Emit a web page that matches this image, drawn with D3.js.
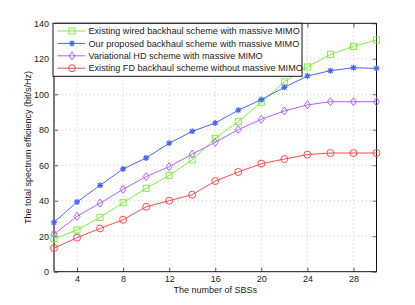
<!DOCTYPE html>
<html><head><meta charset="utf-8">
<script src="https://cdn.jsdelivr.net/npm/d3@7"></script>
<style>body{margin:0;background:#fff}svg{display:block}text{font-family:"Liberation Sans",Arial,sans-serif;fill:#222}</style>
</head><body><svg id="c" width="415" height="305"></svg>
<script>
const xValues = [2,4,6,8,10,12,14,16,18,20,22,24,26,28,30];
const wired = [18.6,23.5,30.6,38.9,47,54.3,63,75.2,84.6,95.5,107,115.4,122.5,127,130.6];
const proposed = [27.8,39.3,48.7,57.9,64.1,72.4,79.1,83.8,91,97,103.9,110.3,113.3,115,114.6];
const hd = [21.2,31.2,38.7,46.4,53.6,59.2,66.3,72.9,80.1,85.9,90.6,94,95.8,95.8,95.8];
const fd = [13.3,19.2,24.4,29.3,36.6,40,43.4,51.1,56.2,60.9,63.5,66,66.9,66.9,66.9];
const seriesNames = ["Existing wired backhaul scheme with massive MIMO","Our proposed backhaul scheme with massive MIMO","Variational HD scheme with massive MIMO","Existing FD backhaul scheme without massive MIMO"];
const xTicks = [4,8,12,16,20,24,28];
const yTicks = [0,20,40,60,80,100,120,140];
const xTitle = "The number of SBSs";
const yTitle = "The total spectrum efficiency (bit/s/Hz)";

const series = [
  {name:seriesNames[0], values:wired, color:"#7fef3f", marker:"square"},
  {name:seriesNames[1], values:proposed, color:"#4466ff", marker:"star"},
  {name:seriesNames[2], values:hd, color:"#b060ff", marker:"diamond"},
  {name:seriesNames[3], values:fd, color:"#ff4a4a", marker:"circle"}
];

const L=54, R=376.5, T=23.3, B=271.7;
const svg=d3.select("#c");
const x=d3.scaleLinear().domain([2,30]).range([L,R]);
const y=d3.scaleLinear().domain([0,140]).range([B,T]);

// grid
const g=svg.append("g");
g.selectAll(".gx").data(xTicks).enter().append("line")
 .attr("x1",d=>x(d)).attr("x2",d=>x(d)).attr("y1",T).attr("y2",B)
 .attr("stroke","#bbb").attr("stroke-width",0.8).attr("stroke-dasharray","1,3");
g.selectAll(".gy").data(yTicks.filter(d=>d>0&&d<140)).enter().append("line")
 .attr("x1",L).attr("x2",R).attr("y1",d=>y(d)).attr("y2",d=>y(d))
 .attr("stroke","#bbb").attr("stroke-width",0.8).attr("stroke-dasharray","1,3");

// axes
const xa=svg.append("g").attr("transform",`translate(0,${B})`)
 .call(d3.axisBottom(x).tickValues(xTicks).tickSize(-4).tickPadding(4));
const ya=svg.append("g").attr("transform",`translate(${L},0)`)
 .call(d3.axisLeft(y).tickValues(yTicks).tickSize(-4).tickPadding(5));
[xa,ya].forEach(a=>{a.select(".domain").remove();a.selectAll("line").attr("stroke","#555");a.selectAll("text").style("font-size","9px").attr("fill","#222");});
// top/right ticks
svg.append("g").attr("transform",`translate(0,${T})`).call(d3.axisTop(x).tickValues(xTicks).tickSize(-4).tickFormat(""))
 .call(a=>{a.select(".domain").remove();a.selectAll("line").attr("stroke","#555");});
svg.append("g").attr("transform",`translate(${R},0)`).call(d3.axisRight(y).tickValues(yTicks).tickSize(-4).tickFormat(""))
 .call(a=>{a.select(".domain").remove();a.selectAll("line").attr("stroke","#777");});
// box
svg.append("line").attr("x1",L).attr("x2",R).attr("y1",B).attr("y2",B).attr("stroke","#111");
svg.append("line").attr("x1",L).attr("x2",R).attr("y1",T).attr("y2",T).attr("stroke","#111");
svg.append("line").attr("x1",R).attr("x2",R).attr("y1",T).attr("y2",B).attr("stroke","#111");
svg.append("line").attr("x1",L).attr("x2",L).attr("y1",T).attr("y2",B).attr("stroke","#7a7a7a").attr("stroke-width",2);

function marker(sel,type,color){
  if(type==="square") sel.append("rect").attr("x",-3).attr("y",-3).attr("width",6).attr("height",6).attr("fill","none").attr("stroke",color);
  else if(type==="circle") sel.append("circle").attr("r",3.5).attr("fill","none").attr("stroke",color);
  else if(type==="diamond") sel.append("path").attr("d","M0,-4L3,0L0,4L-3,0Z").attr("fill","none").attr("stroke",color);
  else if(type==="star") sel.append("path").attr("d","M-3,0H3M0,-3V3M-2.2,-2.2L2.2,2.2M-2.2,2.2L2.2,-2.2").attr("stroke",color).attr("stroke-width",1.2);
}

const line=d3.line().x((d,i)=>x(xValues[i])).y(d=>y(d));
series.forEach(s=>{
  svg.append("path").datum(s.values).attr("d",line).attr("fill","none").attr("stroke",s.color).attr("stroke-width",1);
  s.values.forEach((v,i)=>{
    const m=svg.append("g").attr("transform",`translate(${x(xValues[i])},${y(v)})`);
    marker(m,s.marker,s.color);
  });
});

// legend
const lg=svg.append("g");
lg.append("rect").attr("x",53).attr("y",T).attr("width",249).attr("height",53).attr("fill","#fff").attr("stroke","#111").attr("stroke-width",1);
series.forEach((s,i)=>{
  const yy=31+i*12.4;
  lg.append("line").attr("x1",57.5).attr("x2",85).attr("y1",yy).attr("y2",yy).attr("stroke",s.color);
  marker(lg.append("g").attr("transform",`translate(72,${yy})`),s.marker,s.color);
  lg.append("text").attr("x",88.5).attr("y",yy).attr("dy","0.35em").style("font-size","9.1px").text(s.name);
});

svg.append("text").attr("x",(L+R)/2).attr("y",293).attr("text-anchor","middle").style("font-size","9px").text(xTitle);
svg.append("text").attr("transform",`translate(31,${(T+B)/2}) rotate(-90)`).attr("text-anchor","middle").style("font-size","9px").text(yTitle);
</script></body></html>
